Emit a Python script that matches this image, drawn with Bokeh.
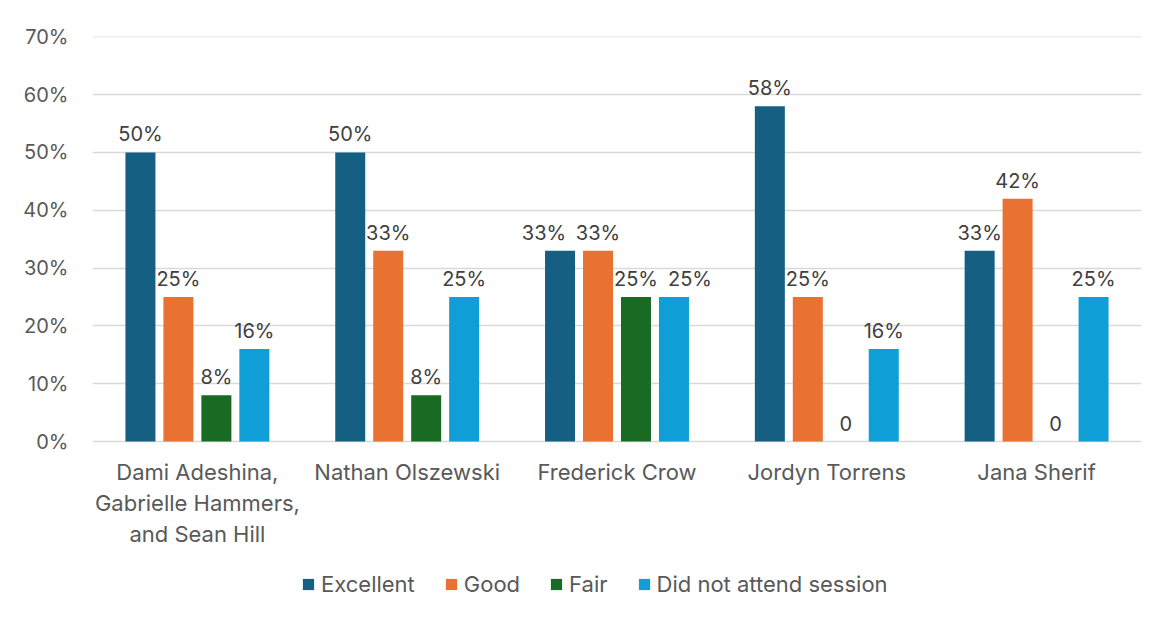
from bokeh.plotting import figure
from bokeh.models import ColumnDataSource, NumeralTickFormatter, Legend, LegendItem, FactorRange
from bokeh.transform import dodge
from bokeh.core.properties import value
from bokeh.embed import file_html
from bokeh.resources import INLINE

categories = ["Dami Adeshina,\nGabrielle Hammers,\nand Sean Hill", "Nathan Olszewski",
              "Frederick Crow", "Jordyn Torrens", "Jana Sherif"]
series = ["Excellent", "Good", "Fair", "Did not attend session"]
excellent = [0.50, 0.50, 0.33, 0.58, 0.33]
good = [0.25, 0.33, 0.33, 0.25, 0.42]
fair = [0.08, 0.08, 0.25, 0.00, 0.00]
did_not_attend = [0.16, 0.25, 0.25, 0.16, 0.25]
y_ticks = [0, 0.1, 0.2, 0.3, 0.4, 0.5, 0.6, 0.7]
colors = ["#156082", "#E97132", "#196B24", "#0F9ED5"]

FONT = "Inter"
TXT = "#595959"
LBL = "#404040"

def lab(v):
    return "0" if v == 0 else f"{round(v*100)}%"

# label nudges (px) to avoid overlaps, as in the reference (Frederick Crow group)
nudge = {"exc": [0, 0, -16, 0, 0], "good": [0, 0, 0, 0, 0],
         "fair": [0, 0, 0, 0, 0], "dna": [0, 0, 16, 0, 0]}

data = dict(cat=categories)
cols = ["exc", "good", "fair", "dna"]
for c, vals in zip(cols, [excellent, good, fair, did_not_attend]):
    data[c] = vals
    data[c + "_lab"] = [lab(v) for v in vals]
    data[c + "_nx"] = nudge[c]
src = ColumnDataSource(data)

# frame extends below the zero line so that the category labels and the legend sit inside it
p = figure(x_range=FactorRange(*categories), y_range=(-0.2923, 0.7005),
           frame_width=1049, frame_height=574,
           output_backend="svg", toolbar_location=None,
           min_border_left=92, min_border_right=19, min_border_top=36, min_border_bottom=7)
p.outline_line_color = None

offsets = [-0.2715, -0.0905, 0.0905, 0.2715]
items = []
for c, off, col, name in zip(cols, offsets, colors, series):
    r = p.vbar(x=dodge("cat", off, range=p.x_range), top=c, bottom=0, width=0.143, source=src,
               fill_color=col, line_color=None)
    items.append(LegendItem(label=name, renderers=[r]))
    p.text(x=dodge("cat", off, range=p.x_range), y=c, text=c + "_lab", source=src,
           x_offset=c + "_nx",
           text_align="center", text_baseline="alphabetic", y_offset=-18,
           text_font=value(FONT), text_font_size="20px", text_color=LBL)

p.xgrid.grid_line_color = None
p.ygrid.grid_line_color = "#D9D9D9"
p.ygrid.grid_line_width = 1.5
p.yaxis.ticker = y_ticks
p.yaxis.formatter = NumeralTickFormatter(format="0%")
for ax in (p.xaxis, p.yaxis):
    ax.axis_line_color = None
    ax.major_tick_line_color = None
    ax.minor_tick_line_color = None
    ax.major_tick_in = 0
    ax.major_tick_out = 0
    ax.major_label_text_font = FONT
    ax.major_label_text_color = TXT
p.yaxis.major_label_text_font_size = "20px"
p.xaxis.major_label_text_font_size = "22px"
p.yaxis.major_label_standoff = 24
p.xaxis.major_label_standoff = 17
p.xaxis.fixed_location = 0
p.x_range.range_padding = 0
p.x_range.group_padding = 0

legend = Legend(items=items, orientation="horizontal", location=(209, 13),
                label_text_font=FONT, label_text_font_size="22px", label_text_color=TXT,
                glyph_width=14, glyph_height=14, label_standoff=6, spacing=29,
                border_line_color=None, background_fill_alpha=0, padding=0, margin=0)
p.add_layout(legend, "center")

open("out.html", "w").write(file_html(p, INLINE))
